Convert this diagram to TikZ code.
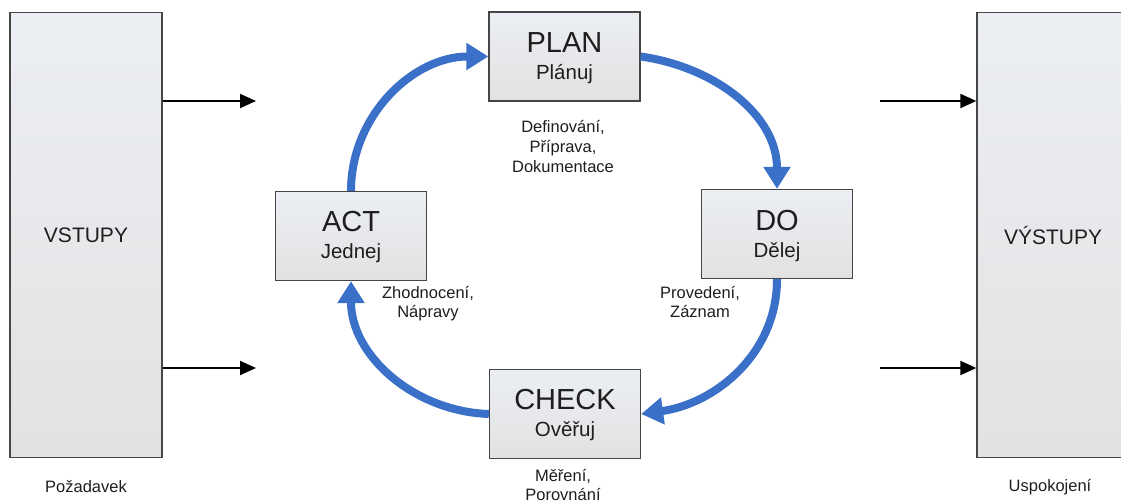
\documentclass[tikz,border=0pt]{standalone}
\usepackage{fontspec}
\setmainfont{Liberation Sans}
\usetikzlibrary{arrows.meta,calc}
\definecolor{cyc}{RGB}{58,112,200}
\definecolor{boxtop}{RGB}{235,238,243}
\definecolor{boxbot}{RGB}{226,226,226}
\definecolor{edge}{RGB}{70,70,70}
\definecolor{ink}{RGB}{30,30,30}

\begin{document}
\begin{tikzpicture}[x=1pt,y=1pt,
  stagebox/.style={draw=edge,line width=1.3pt,top color=boxtop,bottom color=boxbot,
    minimum width=151pt,minimum height=89pt,inner sep=0pt},
  sidebox/.style={stagebox,minimum width=152pt,minimum height=445pt,
    font=\fontsize{21}{24}\selectfont,text=ink},
  bigtxt/.style={anchor=base,font=\fontsize{29}{32}\selectfont,text=ink},
  subtxt/.style={anchor=base,font=\fontsize{20.5}{24}\selectfont,text=ink},
  note/.style={align=center,font=\fontsize{16.5}{19}\selectfont,text=ink},
  cycle arrow/.style={draw=cyc,line width=8pt,-{Triangle[width=26pt,length=22pt]}},
  flow/.style={draw=black,line width=2pt,-{Triangle[width=14pt,length=16pt]}}]

\useasboundingbox (0,0) rectangle (1121,-503);
\clip (0,0) rectangle (1121,-503);

% input and output columns
\node[sidebox] (vstupy) at (86,-235) {VSTUPY};
\node[sidebox] (vystupy) at (1053,-235) {VÝSTUPY};
\node[note] (req) at (86,-487) {Požadavek};
\node[note] (sat) at (1050,-487) {Uspokojení};

% PDCA stages
\node[stagebox] (planbox) at (564.5,-56.5) {};
\node[stagebox] (dobox) at (777,-234) {};
\node[stagebox] (checkbox) at (565,-414) {};
\node[stagebox] (actbox) at (351,-236) {};

\node[bigtxt] (plantitle) at ($(planbox.north)+(0,-41)$) {PLAN};
\node[subtxt] (plansub) at ($(planbox.north)+(0,-68)$) {Plánuj};
\node[bigtxt] (dotitle) at ($(dobox.north)+(0,-42)$) {DO};
\node[subtxt] (dosub) at ($(dobox.north)+(0,-69)$) {Dělej};
\node[bigtxt] (checktitle) at ($(checkbox.north)+(0,-41)$) {CHECK};
\node[subtxt] (checksub) at ($(checkbox.north)+(0,-68)$) {Ověřuj};
\node[bigtxt] (acttitle) at ($(actbox.north)+(0,-41)$) {ACT};
\node[subtxt] (actsub) at ($(actbox.north)+(0,-68)$) {Jednej};

% stage notes
\node[note,font=\fontsize{16.5}{20}\selectfont] (plannote) at (563,-147) {Definování,\\Příprava,\\Dokumentace};
\node[note] (donote) at (700,-302) {Provedení,\\Záznam};
\node[note] (actnote) at (428,-304) {Zhodnocení,\\Nápravy};
\node[note] (checknote) at (563,-485) {Měření,\\Porovnání};

% cycle
\draw[cycle arrow] (actbox.north) to[out=90,in=180] (planbox.west);
\draw[cycle arrow] (planbox.east) to[out=-8,in=90] (dobox.north);
\draw[cycle arrow] (dobox.south) to[out=-90,in=8] (checkbox.east);
\draw[cycle arrow] (checkbox.west) to[out=178,in=-90] (actbox.south);

% inputs and outputs
\coordinate (inA) at (256,-101);
\coordinate (inB) at (256,-368);
\coordinate (outA) at (880,-101);
\coordinate (outB) at (880,-368);
\draw[flow] (vstupy.east |- inA) -- (inA);
\draw[flow] (vstupy.east |- inB) -- (inB);
\draw[flow] (outA) -- (vystupy.west |- outA);
\draw[flow] (outB) -- (vystupy.west |- outB);
\end{tikzpicture}
\end{document}
